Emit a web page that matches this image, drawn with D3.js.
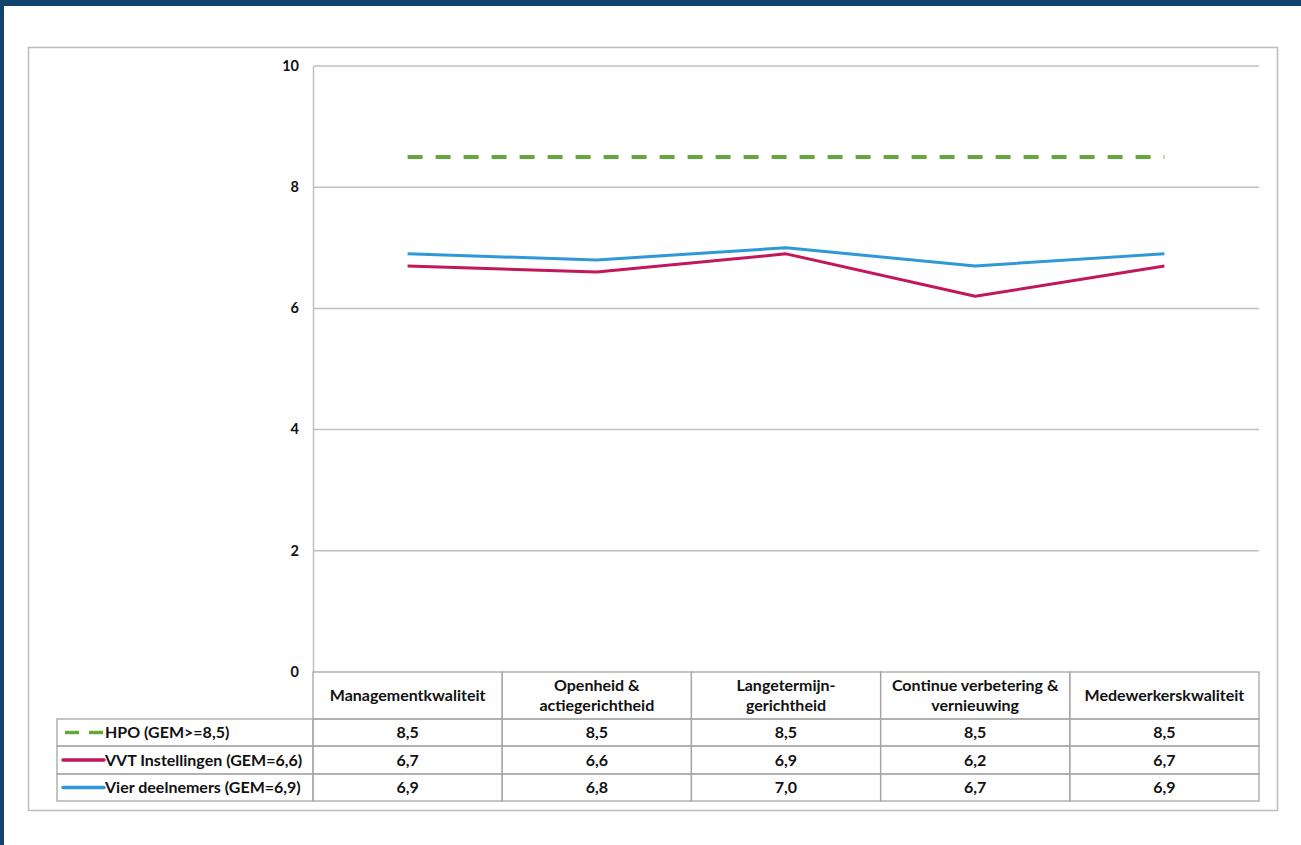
<!DOCTYPE html>
<html>
<head>
<meta charset="utf-8">
<script src="https://cdn.jsdelivr.net/npm/d3@7"></script>
<style>
  html, body { margin: 0; padding: 0; background: #ffffff; }
  svg { display: block; }
  text { font-family: Lato, "Open Sans", sans-serif; font-weight: 700; fill: #111; }
</style>
</head>
<body>
<svg id="chart" width="1301" height="845"></svg>
<script>
// Scores per dimension
const categories = [
  ["Managementkwaliteit"],
  ["Openheid &", "actiegerichtheid"],
  ["Langetermijn-", "gerichtheid"],
  ["Continue verbetering &", "vernieuwing"],
  ["Medewerkerskwaliteit"]
];
const seriesNames = ["HPO (GEM>=8,5)", "VVT Instellingen (GEM=6,6)", "Vier deelnemers (GEM=6,9)"];
const hpoValues = [8.5, 8.5, 8.5, 8.5, 8.5];
const vvtValues = [6.7, 6.6, 6.9, 6.2, 6.7];
const vierValues = [6.9, 6.8, 7.0, 6.7, 6.9];
const yTicks = [0, 2, 4, 6, 8, 10];

const series = [
  { name: seriesNames[0], values: hpoValues, color: "#62a83a", dash: "15,13", width: 4 },
  { name: seriesNames[1], values: vvtValues, color: "#c2185b", dash: null, width: 3 },
  { name: seriesNames[2], values: vierValues, color: "#2f98d8", dash: null, width: 3 }
];

const svg = d3.select("#chart");
const fmt = v => d3.format(".1f")(v).replace(".", ",");
const fs = "16px";

// page frame
svg.append("rect").attr("x", 0).attr("y", 0).attr("width", 1301).attr("height", 6).attr("fill", "#10446f");
svg.append("rect").attr("x", 0).attr("y", 0).attr("width", 4).attr("height", 845).attr("fill", "#10446f");

// outer chart box
svg.append("rect").attr("x", 28.5).attr("y", 47.5).attr("width", 1249).attr("height", 763)
  .attr("fill", "#fff").attr("stroke", "#bdbdbd").attr("stroke-width", 1.5);

const plot = { left: 313, right: 1259, top: 66, bottom: 672 };

const x = d3.scaleBand().domain(d3.range(categories.length)).range([plot.left, plot.right]).padding(0);
const y = d3.scaleLinear().domain([0, 10]).range([plot.bottom, plot.top]);

// gridlines
svg.append("g").selectAll("line").data(yTicks.filter(t => t > 0)).join("line")
  .attr("x1", plot.left).attr("x2", plot.right)
  .attr("y1", d => y(d)).attr("y2", d => y(d))
  .attr("stroke", "#bfbfbf").attr("stroke-width", 1.5);

// y axis
const yAxis = d3.axisLeft(y).tickValues(yTicks).tickSize(0).tickPadding(14).tickFormat(d3.format("d"));
const gy = svg.append("g").attr("transform", `translate(${plot.left},0)`).call(yAxis);
gy.select(".domain").attr("stroke", "#bfbfbf").attr("stroke-width", 1.5);
gy.selectAll("text").style("font-size", "14.5px").style("font-family", "Lato, sans-serif")
  .style("font-weight", 700).attr("fill", "#111").attr("dy", "0.3em");

// lines
const line = d3.line().x((d, i) => x(i) + x.bandwidth() / 2).y(d => y(d));
svg.append("g").selectAll("path").data(series).join("path")
  .attr("d", d => line(d.values))
  .attr("fill", "none")
  .attr("stroke", d => d.color)
  .attr("stroke-width", d => d.width)
  .attr("stroke-dasharray", d => d.dash)
  .attr("stroke-linejoin", "round");

// data table
const headerTop = plot.bottom, headerBottom = 719;
const rowTops = [719, 746, 774];
const tableBottom = 801;
const legendLeft = 57;
const grid = svg.append("g").attr("stroke", "#a6a6a6").attr("stroke-width", 1.3);

// header cells
categories.forEach((c, i) => {
  grid.append("rect").attr("x", x(i)).attr("y", headerTop).attr("width", x.bandwidth())
    .attr("height", headerBottom - headerTop).attr("fill", "none");
});
// body rows
rowTops.forEach((top, r) => {
  const h = (r < rowTops.length - 1 ? rowTops[r + 1] : tableBottom) - top;
  grid.append("rect").attr("x", legendLeft).attr("y", top).attr("width", plot.left - legendLeft)
    .attr("height", h).attr("fill", "none");
  categories.forEach((c, i) => {
    grid.append("rect").attr("x", x(i)).attr("y", top).attr("width", x.bandwidth())
      .attr("height", h).attr("fill", "none");
  });
});

// header labels
const headerMid = (headerTop + headerBottom) / 2;
categories.forEach((lines, i) => {
  const t = svg.append("text").attr("x", x(i) + x.bandwidth() / 2).attr("text-anchor", "middle")
    .style("font-size", fs);
  const lh = 20;
  lines.forEach((ln, k) => {
    t.append("tspan").attr("x", x(i) + x.bandwidth() / 2)
      .attr("y", headerMid + (k - (lines.length - 1) / 2) * lh + 5.5).text(ln);
  });
});

// values and legend rows
series.forEach((s, r) => {
  const top = rowTops[r];
  const h = (r < rowTops.length - 1 ? rowTops[r + 1] : tableBottom) - top;
  const mid = top + h / 2;
  s.values.forEach((v, i) => {
    svg.append("text").attr("x", x(i) + x.bandwidth() / 2).attr("y", mid + 5.5)
      .attr("text-anchor", "middle").style("font-size", fs).text(fmt(v));
  });
  // legend key
  if (s.dash) {
    svg.append("line").attr("x1", 65).attr("x2", 103).attr("y1", mid).attr("y2", mid)
      .attr("stroke", s.color).attr("stroke-width", 3.5).attr("stroke-dasharray", "14,10");
  } else {
    svg.append("line").attr("x1", 63).attr("x2", 104).attr("y1", mid).attr("y2", mid)
      .attr("stroke", s.color).attr("stroke-width", 3.5).attr("stroke-linecap", "round");
  }
  svg.append("text").attr("x", 105).attr("y", mid + 5.5).style("font-size", fs).text(s.name);
});
</script>
</body>
</html>
